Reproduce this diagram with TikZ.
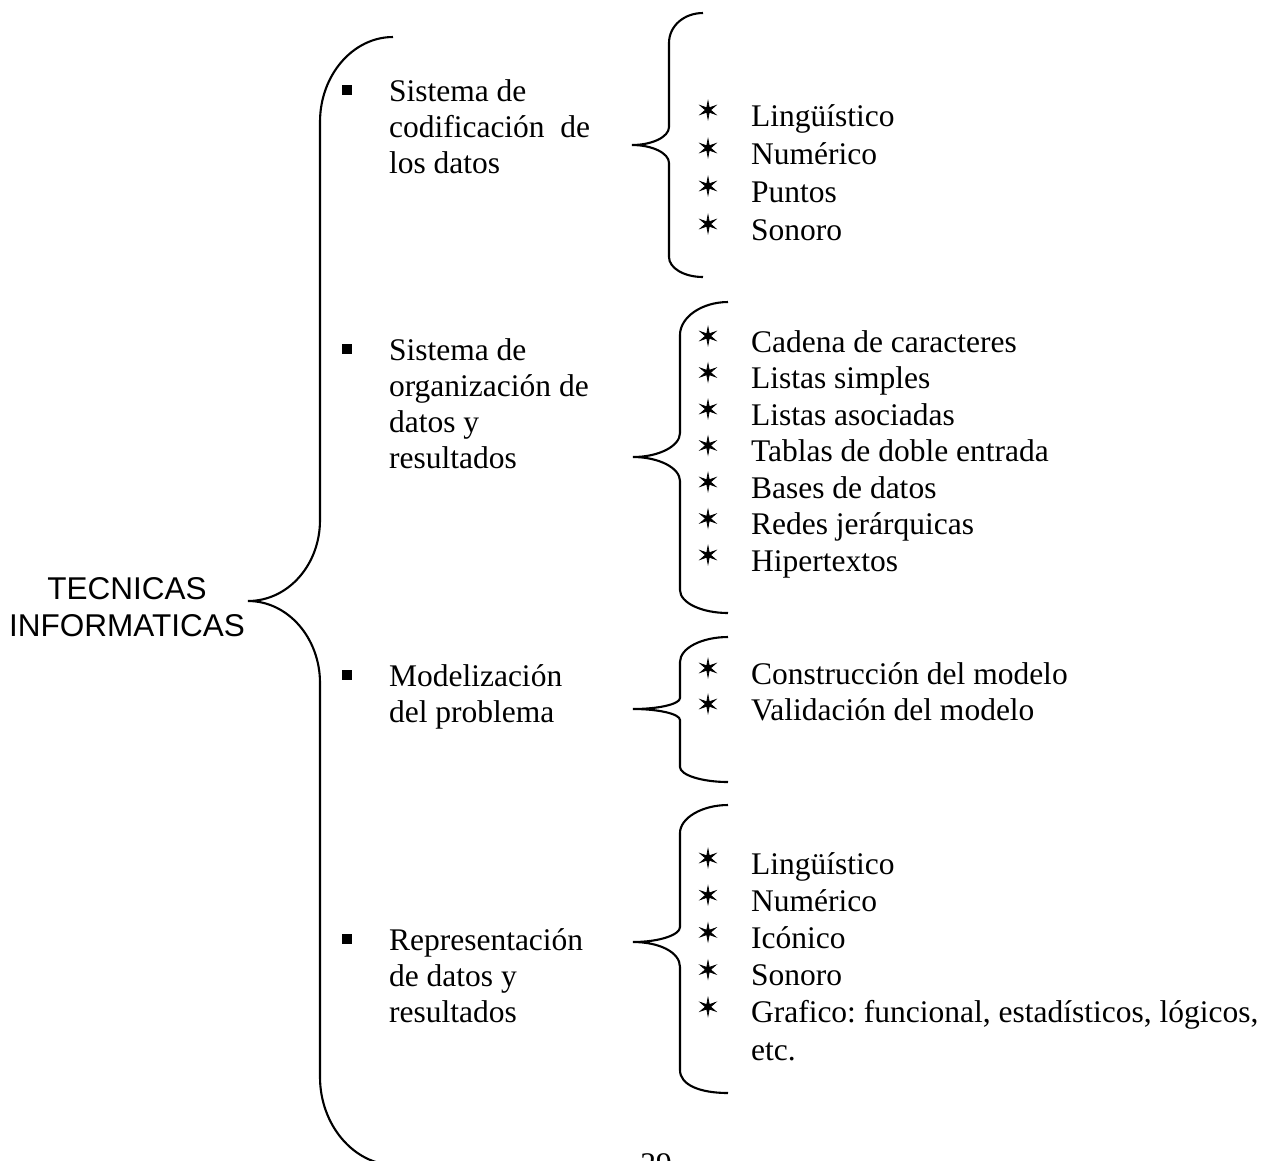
\documentclass[tikz,border=0pt]{standalone}
\usepackage{fontspec}
\setmainfont{Liberation Serif}
\newfontfamily\arialfont{Liberation Sans}
\newfontfamily\symfont[FakeBold=3]{DejaVu Sans}
\frenchspacing
\begin{document}
\begin{tikzpicture}[x=0.381pt, y=-0.381pt, line width=0.8pt]
        \tikzstyle{every node}=[inner sep=0pt, font=\fontsize{12}{13.7}\selectfont]
        \tikzstyle{rama}=[anchor=base west, align=left]
        \tikzstyle{hoja}=[anchor=base west]
        \tikzstyle{cuadro}=[fill=black, minimum size=3.6pt]
        \tikzstyle{estrella}=[font=\symfont\fontsize{9}{10}\selectfont]
        \useasboundingbox (0,0) rectangle (1273,1160);
        % titulo y llave grande
        \node [align=center, font=\arialfont\fontsize{12}{14.1}\selectfont] (titulo) at (127,607) {TECNICAS\\INFORMATICAS};
        \draw (393,37) .. controls (353,37) and (320,75) .. (320,122) -- (320,520) .. controls (320,565) and (288,601) .. (248,601) .. controls (288,601) and (320,638) .. (320,683) -- (320,1077) .. controls (320,1125) and (354,1165) .. (395,1165);
        % ramas (la base es la de la ultima linea)
        \node [cuadro] (c1) at (347,90) {}; \node [rama] (r1) at (388,173) {Sistema de\\codificación~ de\\los datos};
        \node [cuadro] (c2) at (347,349) {}; \node [rama] (r2) at (388,468) {Sistema de\\organización de\\datos y\\resultados};
        \node [cuadro] (c3) at (347,675) {}; \node [rama] (r3) at (388,722) {Modelización\\del problema};
        \node [cuadro] (c4) at (347,939) {}; \node [rama] (r4) at (388,1022) {Representación\\de datos y\\resultados};
        % llaves pequenas
        \draw (703,13) .. controls (684,13) and (669,26) .. (669,43) -- (669,127) .. controls (669,137) and (652,145) .. (632,145) .. controls (652,145) and (669,153) .. (669,163) -- (669,257) .. controls (669,268) and (684,277) .. (703,277);
        \draw (728,302) .. controls (702,302) and (680,317) .. (680,335) -- (680,433) .. controls (680,446) and (659,457) .. (633,457) .. controls (659,457) and (680,468) .. (680,481) -- (680,590) .. controls (680,603) and (702,613) .. (728,613);
        \draw (728,637) .. controls (702,637) and (680,648) .. (680,662) -- (680,698) .. controls (680,704) and (659,709) .. (633,709) .. controls (659,709) and (680,714) .. (680,720) -- (680,767) .. controls (680,775) and (702,782) .. (728,782);
        \draw (728,805) .. controls (702,805) and (680,818) .. (680,833) -- (680,927) .. controls (680,935) and (659,942) .. (633,942) .. controls (659,942) and (680,952) .. (680,967) -- (680,1070) .. controls (680,1085) and (700,1093) .. (728,1093);
        % hojas
        \foreach \t [count=\k from 0] in {Lingüístico, Numérico, Puntos, Sonoro}
            \node [hoja] (cod\k) at (750,{126+38*\k}) {\t} node [estrella] (cods\k) at (708,{110+38*\k}) {✶};
        \foreach \t [count=\k from 0] in {Cadena de caracteres, Listas simples, Listas asociadas, Tablas de doble entrada, Bases de datos, Redes jerárquicas, Hipertextos}
            \node [hoja] (org\k) at (750,{352+36.5*\k}) {\t} node [estrella] (orgs\k) at (708,{336+36.5*\k}) {✶};
        \foreach \t [count=\k from 0] in {Construcción del modelo, Validación del modelo}
            \node [hoja] (mod\k) at (750,{684+36*\k}) {\t} node [estrella] (mods\k) at (708,{668+36*\k}) {✶};
        \foreach \t [count=\k from 0] in {Lingüístico, Numérico, Icónico, Sonoro, {Grafico: funcional, estadísticos, lógicos,}}
            \node [hoja] (rep\k) at (750,{874+37.2*\k}) {\t} node [estrella] (reps\k) at (708,{858+37.2*\k}) {✶};
        \node [hoja] (rep5) at (750,1060) {etc.};
        \node [anchor=base] (pagina) at (656,1174) {29};
\end{tikzpicture}
\end{document}
